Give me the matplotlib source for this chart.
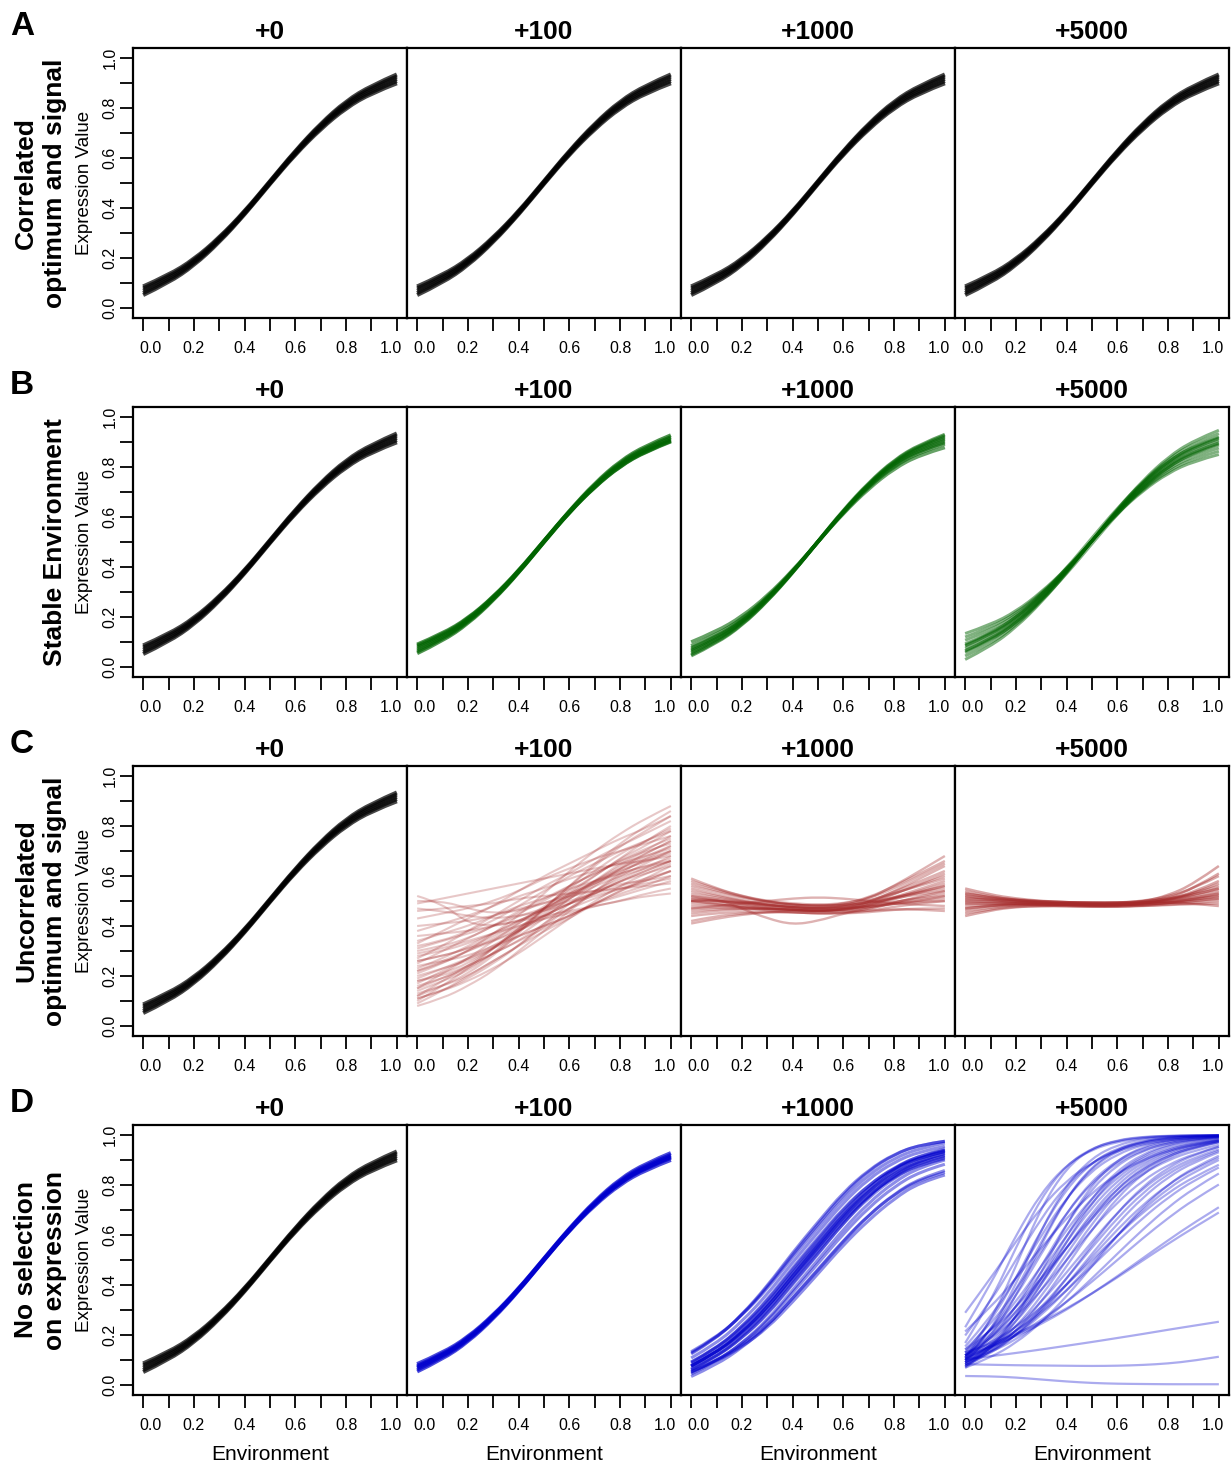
import matplotlib
matplotlib.use("Agg")
import matplotlib.pyplot as plt
from matplotlib.path import Path
from matplotlib.patches import PathPatch
from matplotlib.transforms import ScaledTranslation

plt.rcParams['font.family'] = ['Liberation Sans', 'DejaVu Sans']

# ---------------- data ----------------
env = [0.0, 0.1, 0.2, 0.3, 0.4, 0.5, 0.6, 0.7, 0.8, 0.9, 1.0]
env_ticks = [0.0, 0.1, 0.2, 0.3, 0.4, 0.5, 0.6, 0.7, 0.8, 0.9, 1.0]
env_ticklabels = ['0.0', '', '0.2', '', '0.4', '', '0.6', '', '0.8', '', '1.0']
expr_ticks = [0.0, 0.1, 0.2, 0.3, 0.4, 0.5, 0.6, 0.7, 0.8, 0.9, 1.0]
expr_ticklabels = ['0.0', '', '0.2', '', '0.4', '', '0.6', '', '0.8', '', '1.0']

generations = ['+0', '+100', '+1000', '+5000']
row_letters = ['A', 'B', 'C', 'D']
row_titles = [['Correlated', 'optimum and signal'],
              ['Stable Environment'],
              ['Uncorrelated', 'optimum and signal'],
              ['No selection', 'on expression']]

# starting population (identical in every +0 panel and in row A)
black_bundle = [
    [0.069, 0.116, 0.182, 0.272, 0.380, 0.502, 0.622, 0.728, 0.815, 0.875, 0.917],
    [0.052, 0.101, 0.170, 0.263, 0.374, 0.497, 0.615, 0.717, 0.801, 0.860, 0.899],
    [0.086, 0.131, 0.194, 0.281, 0.386, 0.507, 0.629, 0.738, 0.828, 0.890, 0.934],
    [0.060, 0.108, 0.176, 0.268, 0.377, 0.500, 0.619, 0.723, 0.808, 0.867, 0.908],
    [0.078, 0.124, 0.188, 0.277, 0.383, 0.505, 0.626, 0.734, 0.822, 0.883, 0.926],
]

green_100 = [
    [0.070, 0.116, 0.182, 0.272, 0.380, 0.502, 0.622, 0.728, 0.814, 0.873, 0.914],
    [0.055, 0.104, 0.173, 0.266, 0.377, 0.501, 0.619, 0.721, 0.804, 0.862, 0.902],
    [0.085, 0.128, 0.191, 0.278, 0.383, 0.503, 0.625, 0.735, 0.824, 0.885, 0.927],
    [0.062, 0.110, 0.178, 0.269, 0.378, 0.500, 0.620, 0.725, 0.809, 0.868, 0.908],
    [0.078, 0.122, 0.187, 0.275, 0.382, 0.504, 0.624, 0.731, 0.819, 0.879, 0.920],
    [0.090, 0.133, 0.194, 0.280, 0.385, 0.505, 0.621, 0.722, 0.805, 0.864, 0.904],
]

green_1000 = [
    [0.070, 0.116, 0.182, 0.272, 0.380, 0.502, 0.622, 0.728, 0.813, 0.870, 0.905],
    [0.045, 0.095, 0.166, 0.262, 0.376, 0.503, 0.628, 0.738, 0.828, 0.890, 0.930],
    [0.100, 0.142, 0.202, 0.284, 0.386, 0.501, 0.615, 0.714, 0.794, 0.848, 0.878],
    [0.058, 0.106, 0.174, 0.267, 0.378, 0.502, 0.625, 0.733, 0.821, 0.881, 0.918],
    [0.085, 0.129, 0.192, 0.278, 0.383, 0.501, 0.618, 0.721, 0.803, 0.859, 0.892],
    [0.064, 0.111, 0.178, 0.270, 0.379, 0.503, 0.624, 0.731, 0.817, 0.876, 0.912],
    [0.076, 0.121, 0.186, 0.275, 0.381, 0.501, 0.620, 0.725, 0.809, 0.865, 0.898],
    [0.050, 0.099, 0.169, 0.264, 0.377, 0.500, 0.623, 0.734, 0.825, 0.886, 0.925],
]

green_5000 = [
    [0.030, 0.082, 0.158, 0.258, 0.376, 0.505, 0.632, 0.746, 0.840, 0.906, 0.947],
    [0.044, 0.093, 0.166, 0.263, 0.378, 0.505, 0.630, 0.741, 0.832, 0.895, 0.934],
    [0.057, 0.105, 0.175, 0.269, 0.381, 0.505, 0.627, 0.735, 0.823, 0.884, 0.922],
    [0.066, 0.112, 0.180, 0.272, 0.382, 0.505, 0.626, 0.732, 0.818, 0.877, 0.913],
    [0.075, 0.120, 0.186, 0.276, 0.384, 0.505, 0.624, 0.728, 0.812, 0.870, 0.905],
    [0.084, 0.128, 0.192, 0.280, 0.386, 0.505, 0.622, 0.724, 0.806, 0.863, 0.897],
    [0.093, 0.135, 0.197, 0.283, 0.387, 0.505, 0.621, 0.721, 0.801, 0.856, 0.888],
    [0.107, 0.147, 0.206, 0.289, 0.390, 0.505, 0.618, 0.715, 0.792, 0.845, 0.876],
    [0.120, 0.158, 0.214, 0.294, 0.392, 0.505, 0.616, 0.710, 0.784, 0.834, 0.863],
    [0.134, 0.169, 0.222, 0.299, 0.394, 0.505, 0.614, 0.705, 0.776, 0.823, 0.850],
    [0.087, 0.132, 0.198, 0.288, 0.396, 0.517, 0.636, 0.740, 0.824, 0.882, 0.917],
    [0.063, 0.108, 0.174, 0.264, 0.372, 0.493, 0.612, 0.716, 0.800, 0.858, 0.893],
]

red_100 = [
    [0.08, 0.11, 0.16, 0.22, 0.30, 0.38, 0.46, 0.54, 0.61, 0.67, 0.72],
    [0.10, 0.16, 0.23, 0.31, 0.39, 0.46, 0.53, 0.60, 0.67, 0.74, 0.80],
    [0.11, 0.14, 0.18, 0.23, 0.29, 0.36, 0.43, 0.50, 0.56, 0.61, 0.65],
    [0.12, 0.18, 0.24, 0.31, 0.38, 0.45, 0.52, 0.58, 0.65, 0.70, 0.76],
    [0.13, 0.16, 0.20, 0.26, 0.32, 0.40, 0.47, 0.54, 0.60, 0.65, 0.70],
    [0.14, 0.18, 0.22, 0.29, 0.38, 0.47, 0.56, 0.64, 0.72, 0.78, 0.84],
    [0.15, 0.19, 0.24, 0.29, 0.34, 0.39, 0.44, 0.49, 0.54, 0.58, 0.62],
    [0.16, 0.19, 0.23, 0.29, 0.36, 0.43, 0.51, 0.58, 0.64, 0.69, 0.74],
    [0.17, 0.22, 0.27, 0.32, 0.38, 0.44, 0.49, 0.54, 0.59, 0.63, 0.68],
    [0.18, 0.21, 0.25, 0.31, 0.39, 0.47, 0.55, 0.62, 0.69, 0.74, 0.79],
    [0.19, 0.23, 0.27, 0.31, 0.36, 0.40, 0.44, 0.49, 0.53, 0.56, 0.60],
    [0.20, 0.23, 0.26, 0.31, 0.38, 0.44, 0.51, 0.57, 0.63, 0.68, 0.72],
    [0.21, 0.25, 0.30, 0.35, 0.40, 0.44, 0.49, 0.53, 0.58, 0.62, 0.66],
    [0.22, 0.25, 0.30, 0.37, 0.44, 0.53, 0.62, 0.70, 0.77, 0.83, 0.88],
    [0.23, 0.27, 0.32, 0.37, 0.42, 0.47, 0.52, 0.57, 0.62, 0.66, 0.70],
    [0.24, 0.26, 0.28, 0.32, 0.36, 0.40, 0.44, 0.49, 0.52, 0.55, 0.58],
    [0.25, 0.30, 0.35, 0.40, 0.46, 0.51, 0.56, 0.61, 0.66, 0.71, 0.75],
    [0.26, 0.28, 0.31, 0.34, 0.39, 0.44, 0.49, 0.53, 0.58, 0.61, 0.64],
    [0.27, 0.32, 0.38, 0.44, 0.50, 0.56, 0.61, 0.67, 0.72, 0.77, 0.82],
    [0.28, 0.30, 0.33, 0.37, 0.42, 0.47, 0.53, 0.58, 0.62, 0.66, 0.69],
    [0.29, 0.31, 0.34, 0.37, 0.40, 0.43, 0.45, 0.48, 0.50, 0.53, 0.55],
    [0.30, 0.32, 0.35, 0.40, 0.45, 0.50, 0.56, 0.61, 0.66, 0.70, 0.73],
    [0.31, 0.34, 0.37, 0.40, 0.44, 0.47, 0.50, 0.53, 0.56, 0.59, 0.62],
    [0.32, 0.34, 0.38, 0.42, 0.48, 0.54, 0.60, 0.65, 0.70, 0.74, 0.78],
    [0.34, 0.37, 0.40, 0.44, 0.48, 0.51, 0.55, 0.58, 0.61, 0.64, 0.67],
    [0.36, 0.37, 0.38, 0.40, 0.42, 0.44, 0.46, 0.48, 0.50, 0.52, 0.53],
    [0.38, 0.41, 0.44, 0.48, 0.52, 0.55, 0.59, 0.62, 0.65, 0.68, 0.71],
    [0.40, 0.41, 0.42, 0.44, 0.47, 0.49, 0.52, 0.54, 0.57, 0.58, 0.60],
    [0.43, 0.45, 0.47, 0.50, 0.54, 0.59, 0.63, 0.67, 0.70, 0.73, 0.76],
    [0.46, 0.47, 0.48, 0.49, 0.51, 0.52, 0.53, 0.54, 0.55, 0.56, 0.57],
    [0.49, 0.51, 0.53, 0.55, 0.57, 0.59, 0.61, 0.63, 0.65, 0.66, 0.68],
    [0.52, 0.49, 0.41, 0.40, 0.42, 0.46, 0.51, 0.56, 0.60, 0.63, 0.66],
    [0.09, 0.14, 0.20, 0.26, 0.32, 0.38, 0.43, 0.49, 0.54, 0.59, 0.64],
    [0.12, 0.16, 0.21, 0.28, 0.37, 0.47, 0.56, 0.65, 0.73, 0.80, 0.86],
    [0.15, 0.21, 0.27, 0.34, 0.41, 0.48, 0.54, 0.60, 0.67, 0.72, 0.78],
    [0.18, 0.20, 0.24, 0.29, 0.34, 0.41, 0.47, 0.53, 0.58, 0.62, 0.66],
    [0.22, 0.26, 0.30, 0.34, 0.38, 0.43, 0.47, 0.51, 0.55, 0.58, 0.62],
    [0.26, 0.28, 0.31, 0.36, 0.41, 0.47, 0.52, 0.58, 0.63, 0.67, 0.70],
    [0.11, 0.14, 0.19, 0.25, 0.32, 0.41, 0.49, 0.56, 0.63, 0.69, 0.74],
    [0.33, 0.38, 0.43, 0.48, 0.54, 0.60, 0.65, 0.70, 0.75, 0.79, 0.84],
    [0.50, 0.50, 0.47, 0.45, 0.46, 0.49, 0.53, 0.57, 0.61, 0.64, 0.66],
    [0.47, 0.46, 0.44, 0.43, 0.44, 0.46, 0.49, 0.52, 0.55, 0.57, 0.59],
]

red_1000 = [
    [0.51, 0.50, 0.49, 0.48, 0.475, 0.47, 0.474, 0.488, 0.513, 0.538, 0.56],
    [0.55, 0.526, 0.503, 0.486, 0.475, 0.47, 0.476, 0.495, 0.529, 0.565, 0.60],
    [0.46, 0.468, 0.469, 0.468, 0.465, 0.46, 0.463, 0.474, 0.495, 0.514, 0.53],
    [0.58, 0.548, 0.519, 0.498, 0.485, 0.48, 0.488, 0.514, 0.559, 0.609, 0.66],
    [0.42, 0.44, 0.45, 0.455, 0.455, 0.45, 0.452, 0.46, 0.477, 0.49, 0.50],
    [0.50, 0.492, 0.481, 0.472, 0.465, 0.46, 0.468, 0.494, 0.539, 0.589, 0.64],
    [0.53, 0.514, 0.497, 0.484, 0.475, 0.47, 0.472, 0.48, 0.497, 0.51, 0.52],
    [0.48, 0.48, 0.475, 0.47, 0.465, 0.46, 0.465, 0.483, 0.515, 0.548, 0.58],
    [0.56, 0.536, 0.513, 0.496, 0.485, 0.48, 0.483, 0.494, 0.515, 0.534, 0.55],
    [0.44, 0.452, 0.456, 0.457, 0.455, 0.45, 0.45, 0.455, 0.465, 0.47, 0.47],
    [0.52, 0.508, 0.494, 0.483, 0.475, 0.47, 0.48, 0.509, 0.561, 0.619, 0.68],
    [0.49, 0.486, 0.478, 0.471, 0.465, 0.46, 0.459, 0.461, 0.467, 0.466, 0.46],
    [0.54, 0.52, 0.50, 0.485, 0.475, 0.47, 0.477, 0.498, 0.537, 0.578, 0.62],
    [0.47, 0.474, 0.472, 0.469, 0.465, 0.46, 0.465, 0.481, 0.511, 0.541, 0.57],
    [0.50, 0.50, 0.495, 0.49, 0.485, 0.48, 0.482, 0.492, 0.511, 0.527, 0.54],
    [0.57, 0.542, 0.516, 0.497, 0.485, 0.48, 0.485, 0.501, 0.531, 0.561, 0.59],
    [0.45, 0.462, 0.466, 0.467, 0.465, 0.46, 0.467, 0.488, 0.527, 0.568, 0.61],
    [0.51, 0.502, 0.491, 0.482, 0.475, 0.47, 0.471, 0.477, 0.489, 0.497, 0.50],
    [0.52, 0.504, 0.487, 0.474, 0.465, 0.46, 0.464, 0.479, 0.507, 0.534, 0.56],
    [0.50, 0.488, 0.474, 0.463, 0.455, 0.45, 0.454, 0.468, 0.493, 0.518, 0.54],
    [0.50, 0.51, 0.47, 0.43, 0.405, 0.42, 0.45, 0.47, 0.49, 0.50, 0.52],
    [0.47, 0.48, 0.49, 0.50, 0.51, 0.515, 0.51, 0.50, 0.49, 0.485, 0.48],
    [0.59, 0.55, 0.52, 0.50, 0.49, 0.485, 0.49, 0.51, 0.55, 0.60, 0.65],
    [0.41, 0.43, 0.445, 0.455, 0.46, 0.46, 0.465, 0.475, 0.49, 0.50, 0.51],
]

red_5000 = [
    [0.50, 0.498, 0.496, 0.492, 0.49, 0.488, 0.488, 0.492, 0.50, 0.513, 0.53],
    [0.53, 0.515, 0.506, 0.499, 0.495, 0.493, 0.493, 0.498, 0.51, 0.53, 0.56],
    [0.47, 0.48, 0.486, 0.486, 0.485, 0.483, 0.483, 0.486, 0.492, 0.50, 0.51],
    [0.55, 0.525, 0.51, 0.50, 0.495, 0.493, 0.493, 0.50, 0.518, 0.55, 0.60],
    [0.45, 0.468, 0.478, 0.48, 0.48, 0.478, 0.478, 0.48, 0.484, 0.488, 0.49],
    [0.51, 0.503, 0.498, 0.493, 0.49, 0.488, 0.488, 0.497, 0.522, 0.568, 0.64],
    [0.49, 0.49, 0.49, 0.487, 0.485, 0.483, 0.483, 0.487, 0.494, 0.505, 0.52],
    [0.52, 0.51, 0.504, 0.498, 0.495, 0.493, 0.493, 0.498, 0.508, 0.525, 0.55],
    [0.48, 0.483, 0.484, 0.482, 0.48, 0.478, 0.478, 0.481, 0.486, 0.493, 0.50],
    [0.46, 0.475, 0.484, 0.486, 0.485, 0.483, 0.483, 0.489, 0.504, 0.53, 0.57],
    [0.53, 0.513, 0.502, 0.494, 0.49, 0.488, 0.488, 0.491, 0.498, 0.508, 0.52],
    [0.50, 0.495, 0.492, 0.488, 0.485, 0.483, 0.483, 0.49, 0.506, 0.535, 0.58],
    [0.44, 0.463, 0.476, 0.48, 0.48, 0.478, 0.478, 0.482, 0.492, 0.508, 0.53],
    [0.51, 0.505, 0.502, 0.498, 0.495, 0.493, 0.493, 0.494, 0.494, 0.49, 0.48],
    [0.54, 0.518, 0.504, 0.494, 0.49, 0.488, 0.488, 0.492, 0.502, 0.518, 0.54],
    [0.49, 0.49, 0.49, 0.487, 0.485, 0.483, 0.483, 0.491, 0.512, 0.55, 0.61],
    [0.52, 0.505, 0.496, 0.489, 0.485, 0.483, 0.483, 0.486, 0.492, 0.50, 0.51],
    [0.47, 0.483, 0.49, 0.491, 0.49, 0.488, 0.488, 0.493, 0.504, 0.523, 0.55],
]

blue_100 = [
    [0.068, 0.115, 0.181, 0.272, 0.381, 0.503, 0.623, 0.729, 0.815, 0.874, 0.915],
    [0.054, 0.103, 0.172, 0.265, 0.376, 0.500, 0.618, 0.720, 0.803, 0.861, 0.900],
    [0.084, 0.128, 0.191, 0.279, 0.385, 0.506, 0.627, 0.736, 0.825, 0.886, 0.928],
    [0.061, 0.109, 0.177, 0.269, 0.379, 0.502, 0.621, 0.726, 0.810, 0.868, 0.908],
    [0.077, 0.122, 0.187, 0.276, 0.384, 0.505, 0.625, 0.732, 0.820, 0.880, 0.921],
    [0.072, 0.118, 0.183, 0.272, 0.379, 0.500, 0.620, 0.725, 0.811, 0.871, 0.912],
]

blue_1000 = [
    [0.076, 0.130, 0.210, 0.310, 0.435, 0.555, 0.675, 0.775, 0.850, 0.900, 0.925],
    [0.092, 0.148, 0.232, 0.336, 0.463, 0.583, 0.703, 0.800, 0.871, 0.917, 0.940],
    [0.060, 0.112, 0.188, 0.284, 0.407, 0.527, 0.648, 0.750, 0.829, 0.883, 0.910],
    [0.108, 0.166, 0.254, 0.362, 0.491, 0.611, 0.730, 0.825, 0.892, 0.934, 0.955],
    [0.044, 0.094, 0.167, 0.259, 0.380, 0.501, 0.623, 0.729, 0.812, 0.871, 0.900],
    [0.091, 0.146, 0.227, 0.326, 0.449, 0.566, 0.682, 0.777, 0.848, 0.894, 0.918],
    [0.061, 0.114, 0.194, 0.294, 0.422, 0.546, 0.671, 0.776, 0.857, 0.911, 0.938],
    [0.087, 0.146, 0.233, 0.341, 0.470, 0.590, 0.708, 0.801, 0.869, 0.911, 0.933],
    [0.065, 0.114, 0.187, 0.280, 0.402, 0.523, 0.648, 0.756, 0.840, 0.898, 0.928],
    [0.128, 0.188, 0.279, 0.391, 0.522, 0.643, 0.763, 0.857, 0.922, 0.961, 0.975],
    [0.034, 0.081, 0.149, 0.234, 0.349, 0.463, 0.578, 0.680, 0.762, 0.821, 0.850],
    [0.053, 0.094, 0.153, 0.227, 0.332, 0.445, 0.560, 0.660, 0.745, 0.810, 0.840],
    [0.133, 0.191, 0.278, 0.384, 0.511, 0.630, 0.748, 0.841, 0.907, 0.947, 0.968],
    [0.049, 0.097, 0.165, 0.252, 0.369, 0.486, 0.605, 0.710, 0.793, 0.853, 0.883],
    [0.074, 0.131, 0.216, 0.322, 0.451, 0.573, 0.693, 0.791, 0.864, 0.910, 0.934],
    [0.078, 0.129, 0.204, 0.298, 0.419, 0.538, 0.657, 0.759, 0.836, 0.890, 0.916],
    [0.076, 0.130, 0.210, 0.311, 0.438, 0.561, 0.685, 0.789, 0.867, 0.919, 0.945],
    [0.076, 0.130, 0.210, 0.309, 0.432, 0.549, 0.665, 0.761, 0.833, 0.881, 0.905],
    [0.124, 0.186, 0.281, 0.396, 0.530, 0.652, 0.771, 0.861, 0.924, 0.960, 0.975],
    [0.053, 0.097, 0.158, 0.237, 0.347, 0.459, 0.575, 0.680, 0.764, 0.826, 0.858],
]

blue_5000 = [
    [0.100, 0.168, 0.269, 0.401, 0.550, 0.690, 0.802, 0.881, 0.931, 0.961, 0.978],
    [0.119, 0.182, 0.269, 0.378, 0.500, 0.622, 0.731, 0.818, 0.881, 0.924, 0.953],
    [0.083, 0.154, 0.269, 0.426, 0.599, 0.750, 0.858, 0.924, 0.961, 0.980, 0.990],
    [0.109, 0.214, 0.378, 0.574, 0.750, 0.870, 0.937, 0.971, 0.987, 0.994, 0.997],
    [0.091, 0.142, 0.214, 0.310, 0.426, 0.550, 0.668, 0.769, 0.846, 0.900, 0.937],
    [0.130, 0.214, 0.332, 0.475, 0.622, 0.750, 0.846, 0.909, 0.948, 0.971, 0.984],
    [0.076, 0.130, 0.214, 0.332, 0.475, 0.622, 0.750, 0.846, 0.909, 0.948, 0.971],
    [0.100, 0.214, 0.401, 0.622, 0.802, 0.909, 0.961, 0.984, 0.993, 0.997, 0.999],
    [0.119, 0.214, 0.354, 0.525, 0.690, 0.818, 0.900, 0.948, 0.973, 0.987, 0.993],
    [0.069, 0.142, 0.269, 0.450, 0.646, 0.802, 0.900, 0.953, 0.978, 0.990, 0.995],
    [0.091, 0.130, 0.182, 0.250, 0.332, 0.426, 0.525, 0.622, 0.711, 0.786, 0.846],
    [0.142, 0.214, 0.310, 0.426, 0.550, 0.668, 0.769, 0.846, 0.900, 0.937, 0.961],
    [0.109, 0.154, 0.214, 0.289, 0.378, 0.475, 0.574, 0.668, 0.750, 0.818, 0.870],
    [0.083, 0.130, 0.198, 0.289, 0.401, 0.525, 0.646, 0.750, 0.832, 0.891, 0.931],
    [0.100, 0.182, 0.310, 0.475, 0.646, 0.786, 0.881, 0.937, 0.968, 0.984, 0.992],
    [0.130, 0.250, 0.426, 0.622, 0.786, 0.891, 0.948, 0.976, 0.989, 0.995, 0.998],
    [0.069, 0.109, 0.168, 0.250, 0.354, 0.475, 0.599, 0.711, 0.802, 0.870, 0.917],
    [0.119, 0.198, 0.310, 0.450, 0.599, 0.731, 0.832, 0.900, 0.943, 0.968, 0.982],
    [0.091, 0.154, 0.250, 0.378, 0.525, 0.668, 0.786, 0.870, 0.924, 0.957, 0.976],
    [0.109, 0.250, 0.475, 0.711, 0.870, 0.948, 0.980, 0.993, 0.997, 0.999, 0.999],
    [0.076, 0.142, 0.250, 0.401, 0.574, 0.731, 0.846, 0.917, 0.957, 0.978, 0.989],
    [0.154, 0.269, 0.426, 0.599, 0.750, 0.858, 0.924, 0.961, 0.980, 0.990, 0.995],
    [0.100, 0.154, 0.231, 0.332, 0.450, 0.574, 0.690, 0.786, 0.858, 0.909, 0.943],
    [0.119, 0.168, 0.231, 0.310, 0.401, 0.500, 0.599, 0.690, 0.769, 0.832, 0.881],
    [0.083, 0.142, 0.231, 0.354, 0.500, 0.646, 0.769, 0.858, 0.917, 0.953, 0.973],
    [0.109, 0.182, 0.289, 0.426, 0.574, 0.711, 0.818, 0.891, 0.937, 0.964, 0.980],
    [0.168, 0.332, 0.550, 0.750, 0.881, 0.948, 0.978, 0.991, 0.996, 0.998, 0.999],
    [0.231, 0.401, 0.599, 0.769, 0.881, 0.943, 0.973, 0.988, 0.995, 0.998, 0.999],
    [0.289, 0.426, 0.574, 0.711, 0.818, 0.891, 0.937, 0.964, 0.980, 0.989, 0.994],
    [0.198, 0.332, 0.500, 0.668, 0.802, 0.891, 0.943, 0.971, 0.985, 0.993, 0.996],
    [0.130, 0.164, 0.204, 0.252, 0.306, 0.366, 0.430, 0.498, 0.565, 0.629, 0.690],
    [0.119, 0.153, 0.195, 0.244, 0.301, 0.366, 0.435, 0.507, 0.579, 0.648, 0.711],
    [0.109, 0.148, 0.198, 0.259, 0.332, 0.413, 0.500, 0.587, 0.668, 0.741, 0.802],
    [0.091, 0.136, 0.198, 0.279, 0.378, 0.488, 0.599, 0.701, 0.786, 0.852, 0.900],
    [0.076, 0.125, 0.198, 0.299, 0.426, 0.562, 0.690, 0.794, 0.870, 0.921, 0.953],
    [0.142, 0.240, 0.378, 0.537, 0.690, 0.810, 0.891, 0.940, 0.968, 0.983, 0.991],
    [0.091, 0.190, 0.354, 0.562, 0.750, 0.875, 0.943, 0.975, 0.989, 0.995, 0.998],
    [0.119, 0.190, 0.289, 0.413, 0.550, 0.679, 0.786, 0.864, 0.917, 0.950, 0.971],
    [0.100, 0.148, 0.214, 0.299, 0.401, 0.512, 0.622, 0.721, 0.802, 0.864, 0.909],
    [0.214, 0.310, 0.426, 0.550, 0.668, 0.769, 0.846, 0.900, 0.937, 0.961, 0.976],
    [0.103, 0.115, 0.128, 0.142, 0.157, 0.172, 0.188, 0.204, 0.221, 0.237, 0.253],
    [0.083, 0.081, 0.079, 0.078, 0.077, 0.076, 0.077, 0.080, 0.086, 0.097, 0.113],
    [0.036, 0.035, 0.030, 0.022, 0.014, 0.008, 0.005, 0.004, 0.003, 0.003, 0.003],
]

# colours per scenario
c_black = '#000000'
c_green = '#006400'
c_red = '#A52A2A'
c_blue = '#0000CD'

# (curves, colour, alpha, line width)
panels = [
    [(black_bundle, c_black, 0.72, 3.0), (black_bundle, c_black, 0.72, 3.0),
     (black_bundle, c_black, 0.72, 3.0), (black_bundle, c_black, 0.72, 3.0)],
    [(black_bundle, c_black, 0.72, 3.0), (green_100, c_green, 0.7, 2.8),
     (green_1000, c_green, 0.6, 2.5), (green_5000, c_green, 0.5, 2.1)],
    [(black_bundle, c_black, 0.72, 3.0), (red_100, c_red, 0.26, 1.5),
     (red_1000, c_red, 0.36, 1.7), (red_5000, c_red, 0.42, 1.8)],
    [(black_bundle, c_black, 0.72, 3.0), (blue_100, c_blue, 0.7, 2.8),
     (blue_1000, c_blue, 0.45, 2.2), (blue_5000, c_blue, 0.33, 1.6)],
]


def draw_curve(ax, xs, ys, color, alpha, lw):
    """Draw one reaction norm as a smooth quadratic path through its values."""
    pts = list(zip(xs, ys))
    n = len(pts)
    verts = [pts[0]]
    codes = [Path.MOVETO]
    for i in range(1, n - 1):
        if i < n - 2:
            end = ((pts[i][0] + pts[i + 1][0]) / 2, (pts[i][1] + pts[i + 1][1]) / 2)
        else:
            end = pts[n - 1]
        verts += [pts[i], end]
        codes += [Path.CURVE3, Path.CURVE3]
    ax.add_patch(PathPatch(Path(verts, codes), fill=False, edgecolor=color,
                           alpha=alpha, linewidth=lw, capstyle='butt',
                           joinstyle='round'))


# ---------------- layout ----------------
W, H = 1232, 1466
fig = plt.figure(figsize=(W / 100, H / 100), dpi=100)
tops = [48, 407, 766, 1125]
left0, pw, ph = 133, 274, 270


def fx(px):
    return px / W


def fy(py):
    return 1 - py / H


for r in range(4):
    top = tops[r]
    for c in range(4):
        left = left0 + pw * c
        ax = fig.add_axes([fx(left), fy(top + ph), pw / W, ph / H])
        curves, col, alpha, lw = panels[r][c]
        for cv in curves:
            draw_curve(ax, env, cv, col, alpha, lw)
        ax.set_xlim(-0.04, 1.04)
        ax.set_ylim(-0.04, 1.04)
        for sp in ax.spines.values():
            sp.set_linewidth(1.6)
        ax.set_xticks(env_ticks)
        ax.set_xticklabels(env_ticklabels)
        ax.tick_params(axis='x', direction='out', length=9.5, width=1.3,
                       labelsize=11.5, pad=7)
        xl = ax.get_xticklabels()
        xl[0].set_transform(xl[0].get_transform() +
                            ScaledTranslation(7 / 100, 0, fig.dpi_scale_trans))
        xl[-1].set_transform(xl[-1].get_transform() +
                             ScaledTranslation(-6 / 100, 0, fig.dpi_scale_trans))
        if c == 0:
            ax.set_yticks(expr_ticks)
            ax.set_yticklabels(expr_ticklabels, rotation=90, va='center')
            ax.tick_params(axis='y', direction='out', length=9.5, width=1.3,
                           labelsize=11.5, pad=1.5)
        else:
            ax.tick_params(axis='y', left=False, labelleft=False)
        # generation title
        fig.text(fx(left + pw / 2), fy(top - 9), generations[c],
                 ha='center', va='baseline', fontsize=19, fontweight='bold')
        if r == 3:
            fig.text(fx(left + pw / 2), fy(1460), 'Environment',
                     ha='center', va='baseline', fontsize=15)

    cy = top + ph / 2
    # y label
    fig.text(fx(89), fy(cy), 'Expression Value', rotation=90,
             rotation_mode='anchor', ha='center', va='baseline', fontsize=13.5)
    # row title
    lines = row_titles[r]
    xs = [33, 62] if len(lines) == 2 else [62]
    for txt, xb in zip(lines, xs):
        fig.text(fx(xb), fy(cy), txt, rotation=90, rotation_mode='anchor',
                 ha='center', va='baseline', fontsize=19, fontweight='bold')
    # panel letter
    fig.text(fx(10), fy(top - 13), row_letters[r], ha='left', va='baseline',
             fontsize=24, fontweight='bold')

fig.savefig('out.png', dpi=100)
